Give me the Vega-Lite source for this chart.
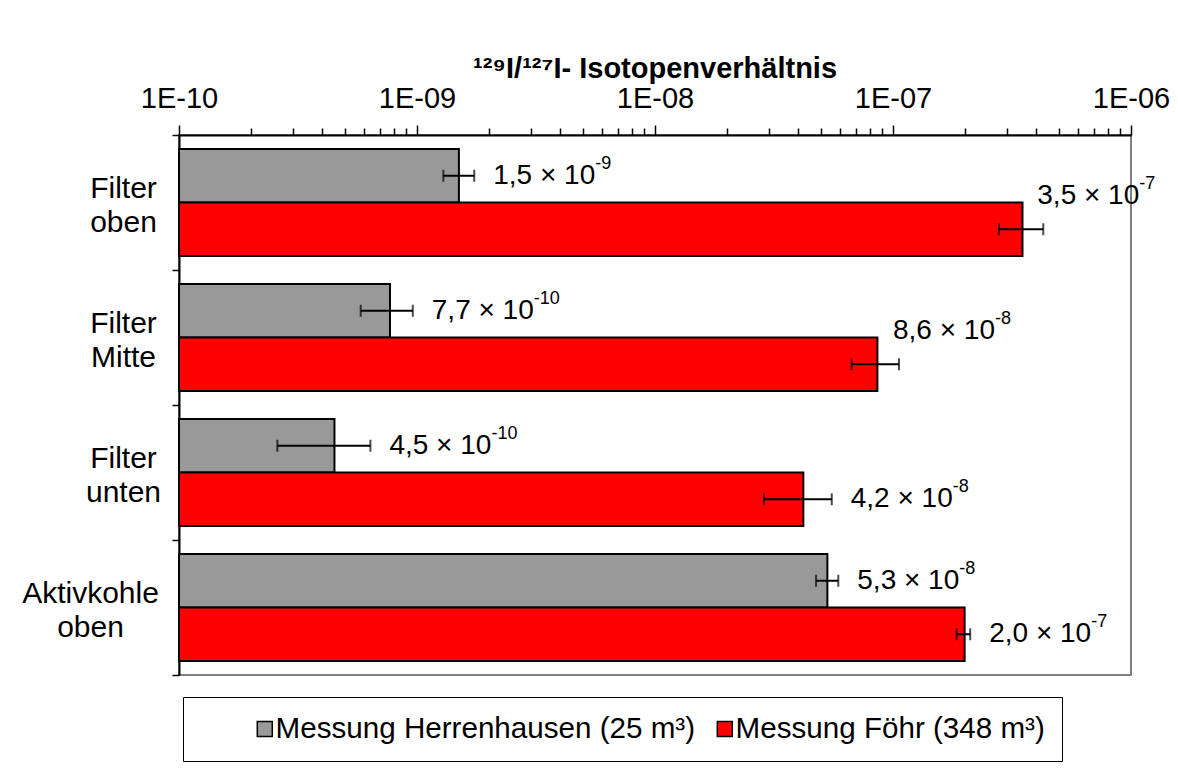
{
  "$schema": "https://vega.github.io/schema/vega-lite/v6.json",
  "width": 952,
  "height": 540,
  "autosize": {"type": "none"},
  "padding": {"left": 179, "top": 135, "right": 47, "bottom": 94},
  "background": "white",
  "config": {
    "font": "Liberation Sans",
    "view": {"stroke": "#808080", "strokeWidth": 2},
    "axis": {"domainColor": "black", "tickColor": "black", "labelColor": "black", "labelFont": "Liberation Sans", "grid": false}
  },
  "title": {"text": "¹²⁹I/¹²⁷I- Isotopenverhältnis", "fontSize": 29, "fontWeight": "bold", "font": "Liberation Sans", "anchor": "middle", "offset": 0, "color": "black"},
  "data": {"values": [
    {"Probe": "Filter oben", "Messung": "Messung Herrenhausen (25 m³)", "Wert": 1.5e-9, "lo": 1.29e-9, "hi": 1.74e-9, "Label": "1,5 × 10", "Exp": "-9"},
    {"Probe": "Filter oben", "Messung": "Messung Föhr (348 m³)", "Wert": 3.5e-7, "lo": 2.79e-7, "hi": 4.28e-7, "Label": "3,5 × 10", "Exp": "-7"},
    {"Probe": "Filter Mitte", "Messung": "Messung Herrenhausen (25 m³)", "Wert": 7.7e-10, "lo": 5.8e-10, "hi": 9.6e-10, "Label": "7,7 × 10", "Exp": "-10"},
    {"Probe": "Filter Mitte", "Messung": "Messung Föhr (348 m³)", "Wert": 8.6e-8, "lo": 6.7e-8, "hi": 1.06e-7, "Label": "8,6 × 10", "Exp": "-8"},
    {"Probe": "Filter unten", "Messung": "Messung Herrenhausen (25 m³)", "Wert": 4.5e-10, "lo": 2.59e-10, "hi": 6.37e-10, "Label": "4,5 × 10", "Exp": "-10"},
    {"Probe": "Filter unten", "Messung": "Messung Föhr (348 m³)", "Wert": 4.2e-8, "lo": 2.87e-8, "hi": 5.53e-8, "Label": "4,2 × 10", "Exp": "-8"},
    {"Probe": "Aktivkohle oben", "Messung": "Messung Herrenhausen (25 m³)", "Wert": 5.3e-8, "lo": 4.75e-8, "hi": 5.89e-8, "Label": "5,3 × 10", "Exp": "-8"},
    {"Probe": "Aktivkohle oben", "Messung": "Messung Föhr (348 m³)", "Wert": 2.0e-7, "lo": 1.85e-7, "hi": 2.11e-7, "Label": "2,0 × 10", "Exp": "-7"}
  ]},
  "encoding": {
    "y": {"field": "Probe", "type": "nominal", "sort": ["Filter oben", "Filter Mitte", "Filter unten", "Aktivkohle oben"],
      "scale": {"paddingInner": 0, "paddingOuter": 0},
      "axis": {"title": null, "orient": "left", "tickBand": "extent", "tickSize": 7, "tickWidth": 1.5, "domainWidth": 2,
        "labelFontSize": 30, "labelAlign": "center", "labelBaseline": "middle", "labelLineHeight": 34,
        "labelOffset": -14, "labelLimit": 400,
        "labelPadding": {"condition": {"test": "datum.label == 'Aktivkohle oben'", "value": 82}, "value": 49},
        "labelExpr": "split(datum.label, ' ')"}},
    "yOffset": {"field": "Messung", "type": "nominal", "sort": ["Messung Herrenhausen (25 m³)", "Messung Föhr (348 m³)"],
      "scale": {"paddingInner": 0, "paddingOuter": 0.2617}}
  },
  "layer": [
    {
      "mark": {"type": "bar", "stroke": "black", "strokeWidth": 2},
      "encoding": {
        "x": {"field": "Wert", "type": "quantitative",
          "scale": {"type": "log", "domain": [1e-10, 1e-6], "nice": false},
          "axis": {"title": null, "orient": "top", "domainWidth": 2, "tickWidth": 1.5,
            "values": [1e-10, 2e-10, 3e-10, 4e-10, 5e-10, 6e-10, 7e-10, 8e-10, 9e-10,
                       1e-9, 2e-9, 3e-9, 4e-9, 5e-9, 6e-9, 7e-9, 8e-9, 9e-9,
                       1e-8, 2e-8, 3e-8, 4e-8, 5e-8, 6e-8, 7e-8, 8e-8, 9e-8,
                       1e-7, 2e-7, 3e-7, 4e-7, 5e-7, 6e-7, 7e-7, 8e-7, 9e-7, 1e-6],
            "tickSize": {"condition": {"test": "abs(log(datum.value)/LN10 - round(log(datum.value)/LN10)) < 0.001", "value": 10}, "value": 7},
            "labelExpr": "abs(log(datum.value)/LN10 - round(log(datum.value)/LN10)) < 0.001 ? '1E-' + (round(-log(datum.value)/LN10) < 10 ? '0' : '') + round(-log(datum.value)/LN10) : ''",
            "labelFontSize": 29, "labelPadding": 12, "labelFlush": false, "labelOverlap": false}},
        "x2": {"datum": 1e-10},
        "fill": {"field": "Messung", "type": "nominal",
          "scale": {"domain": ["Messung Herrenhausen (25 m³)", "Messung Föhr (348 m³)"], "range": ["#999999", "#ff0000"]},
          "legend": {"title": "\u00a0", "titleOrient": "left", "titlePadding": 50, "titleFontSize": 2,
            "orient": "none", "legendX": 4, "legendY": 562, "direction": "horizontal",
            "strokeColor": "black", "padding": 17, "symbolType": "square", "symbolSize": 225,
            "symbolStrokeColor": "black", "symbolStrokeWidth": 1.5, "columnPadding": 14,
            "labelFontSize": 29.6, "labelFont": "Liberation Sans", "labelColor": "black", "labelLimit": 600, "labelOffset": -4}}
      }
    },
    {
      "mark": {"type": "rule", "color": "black", "strokeWidth": 2},
      "encoding": {"x": {"field": "lo", "type": "quantitative"}, "x2": {"field": "hi"}}
    },
    {
      "mark": {"type": "tick", "color": "black", "thickness": 2, "size": 12, "orient": "vertical"},
      "encoding": {"x": {"field": "lo", "type": "quantitative"}}
    },
    {
      "mark": {"type": "tick", "color": "black", "thickness": 2, "size": 12, "orient": "vertical"},
      "encoding": {"x": {"field": "hi", "type": "quantitative"}}
    },
    {
      "transform": [{"filter": "!(datum.Messung == 'Messung Föhr (348 m³)' && (datum.Probe == 'Filter oben' || datum.Probe == 'Filter Mitte'))"}],
      "layer": [
        {"mark": {"type": "text", "align": "left", "baseline": "middle", "dx": 19, "fontSize": 28, "font": "Liberation Sans", "color": "black"},
         "encoding": {"x": {"field": "hi", "type": "quantitative"}, "text": {"field": "Label"}}},
        {"mark": {"type": "text", "align": "left", "baseline": "middle", "dx": 121, "dy": -12, "fontSize": 18, "font": "Liberation Sans", "color": "black"},
         "encoding": {"x": {"field": "hi", "type": "quantitative"}, "text": {"field": "Exp"}}}
      ]
    },
    {
      "transform": [{"filter": "datum.Messung == 'Messung Föhr (348 m³)' && (datum.Probe == 'Filter oben' || datum.Probe == 'Filter Mitte')"}],
      "layer": [
        {"mark": {"type": "text", "align": "left", "baseline": "middle", "dx": -6, "dy": -33, "fontSize": 28, "font": "Liberation Sans", "color": "black"},
         "encoding": {"x": {"field": "hi", "type": "quantitative"}, "text": {"field": "Label"}}},
        {"mark": {"type": "text", "align": "left", "baseline": "middle", "dx": 96, "dy": -45, "fontSize": 18, "font": "Liberation Sans", "color": "black"},
         "encoding": {"x": {"field": "hi", "type": "quantitative"}, "text": {"field": "Exp"}}}
      ]
    }
  ]
}
